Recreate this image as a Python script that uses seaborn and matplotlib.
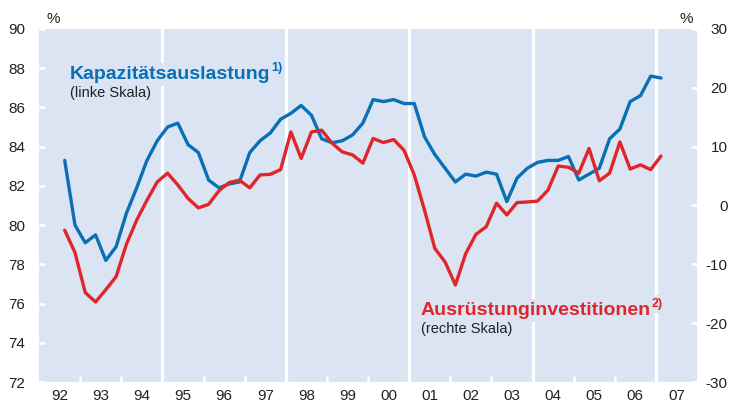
import numpy as np
import pandas as pd
import matplotlib
matplotlib.use("Agg")
import matplotlib.pyplot as plt
import seaborn as sns

# Quartale 1992Q3 bis 2007Q1
quartale = pd.period_range("1992Q3", "2007Q1", freq="Q")

# Kapazitätsauslastung in % (linke Skala)
kapazitaet = [83.3, 80.0, 79.1, 79.5, 78.2, 78.9, 80.6, 81.9, 83.3, 84.3,
              85.0, 85.2, 84.1, 83.7, 82.3, 81.9, 82.1, 82.2, 83.7, 84.3,
              84.7, 85.4, 85.7, 86.1, 85.6, 84.4, 84.2, 84.3, 84.6, 85.2,
              86.4, 86.3, 86.4, 86.2, 86.2, 84.5, 83.6, 82.9, 82.2, 82.6,
              82.5, 82.7, 82.6, 81.2, 82.4, 82.9, 83.2, 83.3, 83.3, 83.5,
              82.3, 82.6, 82.9, 84.4, 84.9, 86.3, 86.6, 87.6, 87.5]

# Ausrüstungsinvestitionen, Veränderung in % (rechte Skala)
investitionen = [-4.2, -8.0, -14.8, -16.4, -14.3, -12.1, -6.6, -2.5, 0.9, 4.0,
                 5.5, 3.5, 1.2, -0.4, 0.2, 2.5, 3.9, 4.3, 3.0, 5.2,
                 5.3, 6.1, 12.5, 8.0, 12.5, 12.8, 10.6, 9.1, 8.6, 7.2,
                 11.4, 10.7, 11.2, 9.4, 5.2, -0.8, -7.3, -9.6, -13.5, -8.2,
                 -4.9, -3.6, 0.4, -1.6, 0.5, 0.6, 0.75, 2.6, 6.7, 6.5,
                 5.5, 9.7, 4.2, 5.5, 10.8, 6.2, 6.9, 6.1, 8.4]

jahre = ["92", "93", "94", "95", "96", "97", "98", "99",
         "00", "01", "02", "03", "04", "05", "06", "07"]

hintergrund = "#dae4f3"
blau = "#0a6fb5"
rot = "#e1262b"
grau = "#222222"

df = pd.DataFrame({
    "zeit": quartale.year + (quartale.quarter - 1) / 4 + 0.125,
    "kapazitaet": kapazitaet,
    "investitionen": investitionen,
})

sns.set_style("white", {"axes.facecolor": hintergrund})
plt.rcParams["font.family"] = ["Liberation Sans", "DejaVu Sans"]
plt.rcParams["axes.unicode_minus"] = False

fig = plt.figure(figsize=(7.29, 4.03), dpi=100)
ax = fig.add_axes([39 / 729, 1 - 382 / 403, 658 / 729, 353 / 403])
ax2 = ax.twinx()

# weiße Trennlinien alle drei Jahre
for j in [1995, 1998, 2001, 2004, 2007]:
    ax.axvline(j, color="white", lw=2.3, zorder=1)

sns.lineplot(data=df, x="zeit", y="kapazitaet", ax=ax, color=blau,
             linewidth=2.4, legend=False, zorder=3)
sns.lineplot(data=df, x="zeit", y="investitionen", ax=ax2, color=rot,
             linewidth=2.4, legend=False, zorder=3)

ax.set_xlim(1992, 2008)
ax.set_ylim(72, 90)
ax2.set_ylim(-30, 30)

for a in (ax, ax2):
    for s in a.spines.values():
        s.set_visible(False)
    a.set_xlabel("")
    a.set_ylabel("")

# x-Achse: Striche an Jahresgrenzen, Beschriftung in Jahresmitte
grenzen = [1993, 1994, 1996, 1997, 1999, 2000, 2002, 2003, 2005, 2006]
ax.set_xticks(grenzen)
ax.set_xticklabels([])
ax.set_xticks([1992.5 + i for i in range(len(jahre))], minor=True)
ax.set_xticklabels(jahre, minor=True)
ax.tick_params(axis="x", which="major", direction="in", length=4, width=1.8,
               color="white", bottom=True)
ax.tick_params(axis="x", which="minor", length=0, pad=5, labelsize=11,
               labelcolor=grau)

ax.set_yticks(range(72, 91, 2))
ax.set_yticklabels([str(v) for v in range(72, 91, 2)])
ax.tick_params(axis="y", direction="in", length=4, width=1.8, color="white",
               pad=10, labelsize=11, labelcolor=grau, left=True)

ax2.set_yticks(range(-30, 31, 10))
ax2.set_yticklabels([str(v) for v in range(-30, 31, 10)])
ax2.tick_params(axis="y", direction="in", length=4, width=1.8, color="white",
                pad=22, labelsize=11, labelcolor=grau, right=True)
plt.setp(ax2.get_yticklabels(), ha="right")

fig.text(47 / 729, 1 - 23 / 403, "%", fontsize=11, color=grau)
fig.text(680 / 729, 1 - 23 / 403, "%", fontsize=11, color=grau)

box = dict(facecolor=hintergrund, edgecolor="none", pad=2)

t1 = ax2.text((70 - 39) / 658, (382 - 79) / 353, "Kapazitätsauslastung",
              transform=ax2.transAxes, fontsize=14, fontweight="bold",
              color=blau, va="baseline", bbox=box, zorder=5)
ax2.annotate("1)", xy=(1, (382 - 71) / 353), xycoords=(t1, ax2.transAxes),
             xytext=(0.2, 0), textcoords="offset points", fontsize=9,
             fontweight="bold", color=blau, va="baseline",
             bbox=box, zorder=5)
ax2.text((70 - 39) / 658, (382 - 97) / 353, "(linke Skala)",
         transform=ax2.transAxes, fontsize=10.5, color=grau, va="baseline",
         bbox=box, zorder=5)

t2 = ax2.text((421 - 39) / 658, (382 - 315) / 353, "Ausrüstunginvestitionen",
              transform=ax2.transAxes, fontsize=14, fontweight="bold",
              color=rot, va="baseline", bbox=box, zorder=5)
ax2.annotate("2)", xy=(1, (382 - 307) / 353), xycoords=(t2, ax2.transAxes),
             xytext=(0.2, 0), textcoords="offset points", fontsize=9,
             fontweight="bold", color=rot, va="baseline",
             bbox=box, zorder=5)
ax2.text((421 - 39) / 658, (382 - 333) / 353, "(rechte Skala)",
         transform=ax2.transAxes, fontsize=10.5, color=grau, va="baseline",
         bbox=box, zorder=5)

fig.savefig("out.png", dpi=100)
